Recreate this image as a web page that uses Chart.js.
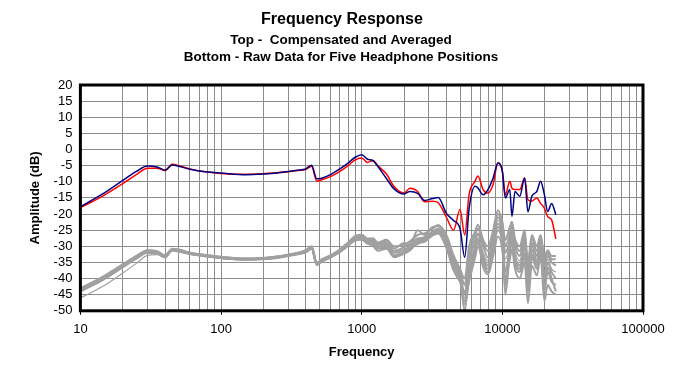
<!DOCTYPE html>
<html>
<head>
<meta charset="utf-8">
<script src="https://cdn.jsdelivr.net/npm/chart.js@4.4.1/dist/chart.umd.min.js"></script>
<style>
    html, body { margin: 0; padding: 0; background: #ffffff; }
    #wrap { width: 699px; height: 368px; }
</style>
</head>
<body>
<div id="wrap"><canvas id="freqChart"></canvas></div>
<script>
// ===============================
// DATA
// ===============================

const freqs = [
    10, 12, 15, 20, 25, 30, 35, 40, 45, 50, 60, 80, 100, 150, 200, 250,
    300, 350, 400, 440, 480, 520, 600, 700, 800, 900, 1000, 1100, 1200, 1300,
    1500, 1700, 2000, 2200, 2500, 2800, 3200, 3500, 4000, 4500, 5000, 5400,
    5800, 6400, 6700, 7300, 7900, 8600, 9300, 10000, 10500, 11300, 11700,
    12300, 13300, 14400, 15200, 16200, 17600, 18700, 19900, 21000, 22400, 24000
];

const blueAvg = [
    -17.7, -15.8, -13.3, -9.6, -6.8, -5.1, -5.4, -6.4, -4.8, -5.2, -6.1, -7.0, -7.3, -7.8, -7.6, -7.3,
    -6.8, -6.4, -6.0, -4.9, -9.1, -8.9, -7.8, -6.0, -4.2, -2.4, -1.6, -3.0, -3.4, -5.2,
    -9.0, -12.2, -13.8, -13.0, -13.6, -15.8, -15.2, -14.9, -19.8, -22.0, -24.5, -33.4,
    -18.4, -11.4, -11.9, -14.0, -12.4, -8.8, -4.2, -6.7, -15.0, -12.4, -20.8,
    -13.0, -14.5, -8.8, -19.3, -14.5, -13.0, -9.8, -14.0, -19.2, -16.7, -20.2
];

const redAvg = [
    -18.0, -16.3, -14.0, -10.6, -7.8, -5.8, -5.8, -6.5, -4.6, -5.0, -6.0, -7.0, -7.4, -7.7, -7.5, -7.2,
    -6.9, -6.5, -6.2, -5.2, -9.8, -9.4, -8.4, -6.8, -5.0, -3.2, -2.6, -4.0, -3.4, -5.0,
    -7.6, -11.5, -13.5, -12.0, -13.0, -16.2, -16.0, -16.5, -21.0, -25.0, -18.6, -26.5,
    -14.0, -9.8, -8.2, -12.4, -13.5, -10.8, -4.2, -6.7, -14.0, -9.8, -12.0,
    -12.4, -12.4, -8.8, -15.6, -16.0, -15.0, -16.7, -18.2, -20.8, -21.8, -27.7
];

// raw data, five positions (left / right)
const raw1 = [
    -43.0, -41.3, -39.0, -35.6, -33.0, -31.2, -31.5, -32.8, -30.8, -31.0, -32.0, -32.8, -33.3, -33.8, -33.6, -33.2,
    -32.6, -32.0, -31.2, -30.0, -35.0, -34.0, -32.8, -31.0, -28.8, -26.8, -26.4, -27.6, -27.5, -28.8,
    -28.0, -30.0, -29.5, -28.5, -26.5, -26.0, -24.5, -23.4, -26.5, -32.8, -37.0, -40.0,
    -30.0, -25.5, -23.3, -28.0, -30.0, -25.0, -18.8, -22.4, -28.0, -24.0, -22.4,
    -27.7, -30.0, -25.0, -35.0, -26.5, -30.0, -26.5, -33.0, -31.2, -33.0, -33.0
];
const raw2 = [
    -43.3, -41.6, -39.3, -35.8, -33.2, -31.4, -31.7, -33.0, -31.0, -31.2, -32.1, -32.9, -33.4, -33.9, -33.7, -33.3,
    -32.7, -32.2, -31.5, -30.3, -35.3, -34.3, -33.0, -31.2, -29.1, -27.2, -26.8, -28.0, -28.3, -29.6,
    -29.2, -31.4, -30.3, -29.2, -27.6, -27.2, -25.4, -24.6, -28.2, -34.0, -38.2, -45.0,
    -34.0, -28.0, -26.0, -30.0, -33.5, -27.0, -21.0, -25.0, -32.0, -28.0, -25.0,
    -30.0, -33.0, -28.0, -38.0, -29.0, -33.0, -28.0, -36.0, -33.0, -35.0, -36.0
];
const raw3 = [
    -43.6, -41.9, -39.6, -36.1, -33.4, -31.6, -31.9, -33.2, -31.1, -31.4, -32.2, -33.0, -33.5, -34.0, -33.8, -33.4,
    -32.8, -32.3, -31.6, -30.4, -35.5, -34.5, -33.2, -31.4, -29.4, -27.5, -27.1, -28.4, -28.8, -30.3,
    -29.8, -32.0, -31.2, -30.0, -28.0, -27.5, -25.8, -25.0, -29.0, -35.5, -39.5, -50.0,
    -38.0, -31.0, -28.0, -33.0, -36.0, -29.0, -23.0, -27.0, -38.0, -30.0, -27.0,
    -33.0, -36.0, -30.0, -41.0, -31.0, -35.0, -30.0, -40.0, -35.0, -38.0, -40.0
];
const raw4 = [
    -43.8, -42.1, -39.8, -36.3, -33.6, -31.8, -32.0, -33.3, -31.2, -31.5, -32.3, -33.1, -33.6, -34.1, -33.9, -33.5,
    -32.9, -32.4, -31.8, -30.6, -35.7, -34.7, -33.4, -31.6, -29.6, -27.8, -27.5, -28.8, -29.3, -30.8,
    -30.5, -32.8, -31.8, -30.8, -28.6, -28.0, -26.3, -25.5, -29.6, -36.5, -40.5, -48.0,
    -41.0, -33.5, -30.0, -35.0, -38.0, -31.0, -25.0, -29.5, -45.0, -32.0, -29.0,
    -35.0, -38.0, -33.0, -44.0, -33.5, -37.0, -31.5, -43.0, -38.0, -41.0, -42.0
];
const raw5 = [
    -44.0, -42.3, -40.0, -36.5, -33.8, -32.0, -32.2, -33.4, -31.3, -31.6, -32.4, -33.2, -33.7, -34.2, -34.0, -33.6,
    -33.0, -32.5, -31.9, -30.8, -35.8, -34.8, -33.5, -31.8, -29.9, -28.2, -28.0, -29.2, -29.8, -31.4,
    -30.8, -33.2, -32.3, -31.3, -29.0, -28.6, -26.6, -26.0, -30.5, -37.5, -41.0, -44.0,
    -37.0, -30.5, -29.0, -36.5, -38.7, -33.0, -27.0, -31.0, -40.0, -34.0, -31.0,
    -37.0, -40.0, -35.0, -47.6, -36.0, -39.0, -33.0, -47.0, -42.0, -44.0, -45.0
];
const raw6 = [
    -43.2, -41.5, -39.2, -35.7, -33.1, -31.3, -31.6, -32.9, -30.9, -31.1, -32.0, -32.8, -33.3, -33.8, -33.6, -33.2,
    -32.6, -32.1, -31.4, -30.2, -35.2, -34.2, -32.9, -31.1, -29.0, -27.0, -26.6, -27.8, -28.0, -29.3,
    -28.6, -30.7, -29.0, -29.6, -25.0, -26.5, -24.0, -23.8, -27.2, -33.5, -37.5, -42.0,
    -32.0, -26.5, -24.5, -29.0, -31.5, -26.0, -20.0, -23.5, -30.0, -26.0, -23.5,
    -28.5, -31.5, -26.5, -36.0, -27.5, -31.5, -27.0, -34.5, -32.0, -34.0, -34.0
];
const raw7 = [
    -43.9, -42.2, -39.9, -36.4, -33.7, -31.9, -32.1, -33.3, -31.2, -31.5, -32.3, -33.1, -33.6, -34.1, -33.9, -33.5,
    -32.9, -32.4, -31.7, -30.5, -35.6, -34.6, -33.3, -31.5, -29.5, -27.7, -27.3, -28.6, -29.0, -30.6,
    -30.2, -33.4, -32.0, -30.4, -29.3, -28.2, -26.0, -25.2, -28.8, -35.0, -40.0, -47.0,
    -39.5, -32.0, -27.5, -34.0, -37.0, -30.0, -24.0, -28.0, -42.0, -31.0, -28.0,
    -34.0, -37.0, -32.0, -43.0, -32.5, -36.0, -30.5, -44.0, -36.5, -40.0, -44.0
];
const raw8 = [
    -46.0, -44.3, -42.0, -38.3, -35.3, -32.8, -32.6, -33.5, -31.3, -31.5, -32.3, -33.1, -33.6, -34.1, -33.9, -33.5,
    -32.9, -32.3, -31.7, -30.6, -35.4, -34.4, -33.1, -31.3, -29.2, -27.4, -27.0, -28.2, -28.5, -30.0,
    -29.5, -32.0, -31.0, -30.2, -28.2, -27.8, -25.6, -24.8, -29.3, -36.0, -39.0, -46.0,
    -35.5, -29.0, -26.5, -32.0, -34.5, -28.0, -22.0, -26.0, -34.0, -29.0, -26.0,
    -31.5, -34.5, -29.0, -39.0, -30.0, -34.0, -29.0, -38.0, -34.0, -37.0, -38.0
];

const xTickLabels = [10, 100, 1000, 10000, 100000];
const yTickLabels = [-50, -45, -40, -35, -30, -25, -20, -15, -10, -5, 0, 5, 10, 15, 20];

const titleLines = [
    'Frequency Response',
    'Top -  Compensated and Averaged',
    'Bottom - Raw Data for Five Headphone Positions'
];

// ===============================
// HELPERS
// ===============================

const FONT = '"Liberation Sans", Arial, sans-serif';

function toPoints(values) {
    return values.map((v, i) => ({ x: freqs[i], y: v }));
}

function rawSet(values, width) {
    return {
        label: 'raw',
        data: toPoints(values),
        borderColor: '#a0a0a0',
        borderWidth: width,
        pointRadius: 0,
        cubicInterpolationMode: 'monotone'
    };
}

// titles above the plot + heavy frame
const framePlugin = {
    id: 'frame',
    afterDraw(chart) {
        const ctx = chart.ctx;
        const a = chart.chartArea;
        ctx.save();
        ctx.strokeStyle = '#000000';
        ctx.lineWidth = 3;
        ctx.strokeRect(a.left, a.top, a.right - a.left, a.bottom - a.top);

        ctx.fillStyle = '#000000';
        ctx.textAlign = 'center';
        ctx.textBaseline = 'middle';
        ctx.font = 'bold 16px ' + FONT;
        ctx.fillText(titleLines[0], 342, 20);
        ctx.font = 'bold 13.5px ' + FONT;
        ctx.fillText(titleLines[1], 341, 40);
        ctx.fillText(titleLines[2], 341, 57);
        ctx.restore();
    }
};

// ===============================
// CHART
// ===============================

const chartCtx = document.getElementById('freqChart');

new Chart(chartCtx, {
    type: 'line',
    data: {
        datasets: [
            {
                label: 'Average L',
                data: toPoints(blueAvg),
                borderColor: '#000080',
                borderWidth: 1.5,
                pointRadius: 0,
                cubicInterpolationMode: 'monotone'
            },
            {
                label: 'Average R',
                data: toPoints(redAvg),
                borderColor: '#ff0000',
                borderWidth: 1.5,
                pointRadius: 0,
                cubicInterpolationMode: 'monotone'
            },
            rawSet(raw1, 2),
            rawSet(raw2, 2),
            rawSet(raw3, 2),
            rawSet(raw4, 2),
            rawSet(raw5, 2),
            rawSet(raw6, 2),
            rawSet(raw7, 2),
            rawSet(raw8, 1.2)
        ]
    },
    options: {
        responsive: true,
        maintainAspectRatio: false,
        animation: false,
        layout: {
            padding: { top: 85, right: 56, left: 28, bottom: 8 }
        },
        plugins: {
            legend: { display: false },
            tooltip: { enabled: false }
        },
        scales: {
            x: {
                type: 'logarithmic',
                min: 10,
                max: 100000,
                afterBuildTicks(scale) {
                    const ticks = [];
                    for (let d = 10; d < 100000; d *= 10) {
                        for (let m = 1; m < 10; m++) {
                            ticks.push({ value: d * m });
                        }
                    }
                    ticks.push({ value: 100000 });
                    scale.ticks = ticks;
                },
                ticks: {
                    autoSkip: false,
                    maxRotation: 0,
                    color: '#000000',
                    font: { family: FONT, size: 13 },
                    padding: 7,
                    callback(value) {
                        return xTickLabels.includes(value) ? String(value) : '';
                    }
                },
                grid: {
                    color: '#8c8c8c',
                    lineWidth: 1,
                    tickLength: 4,
                    tickColor(c) {
                        return xTickLabels.includes(c.tick.value) ? '#000000' : 'rgba(0,0,0,0)';
                    }
                },
                border: { display: false },
                title: {
                    display: true,
                    text: 'Frequency',
                    color: '#000000',
                    font: { family: FONT, size: 13, weight: 'bold' },
                    padding: { top: 0, bottom: 0 }
                }
            },
            y: {
                min: -50,
                max: 20,
                afterBuildTicks(scale) {
                    scale.ticks = yTickLabels.map(v => ({ value: v }));
                },
                ticks: {
                    autoSkip: false,
                    color: '#000000',
                    font: { family: FONT, size: 13 },
                    padding: 8
                },
                grid: {
                    color: '#8c8c8c',
                    lineWidth: 1,
                    drawTicks: false
                },
                border: { display: false },
                title: {
                    display: true,
                    text: 'Amplitude (dB)',
                    color: '#000000',
                    font: { family: FONT, size: 13, weight: 'bold' },
                    padding: { top: 0, bottom: 2 }
                }
            }
        }
    },
    plugins: [framePlugin]
});
</script>
</body>
</html>
